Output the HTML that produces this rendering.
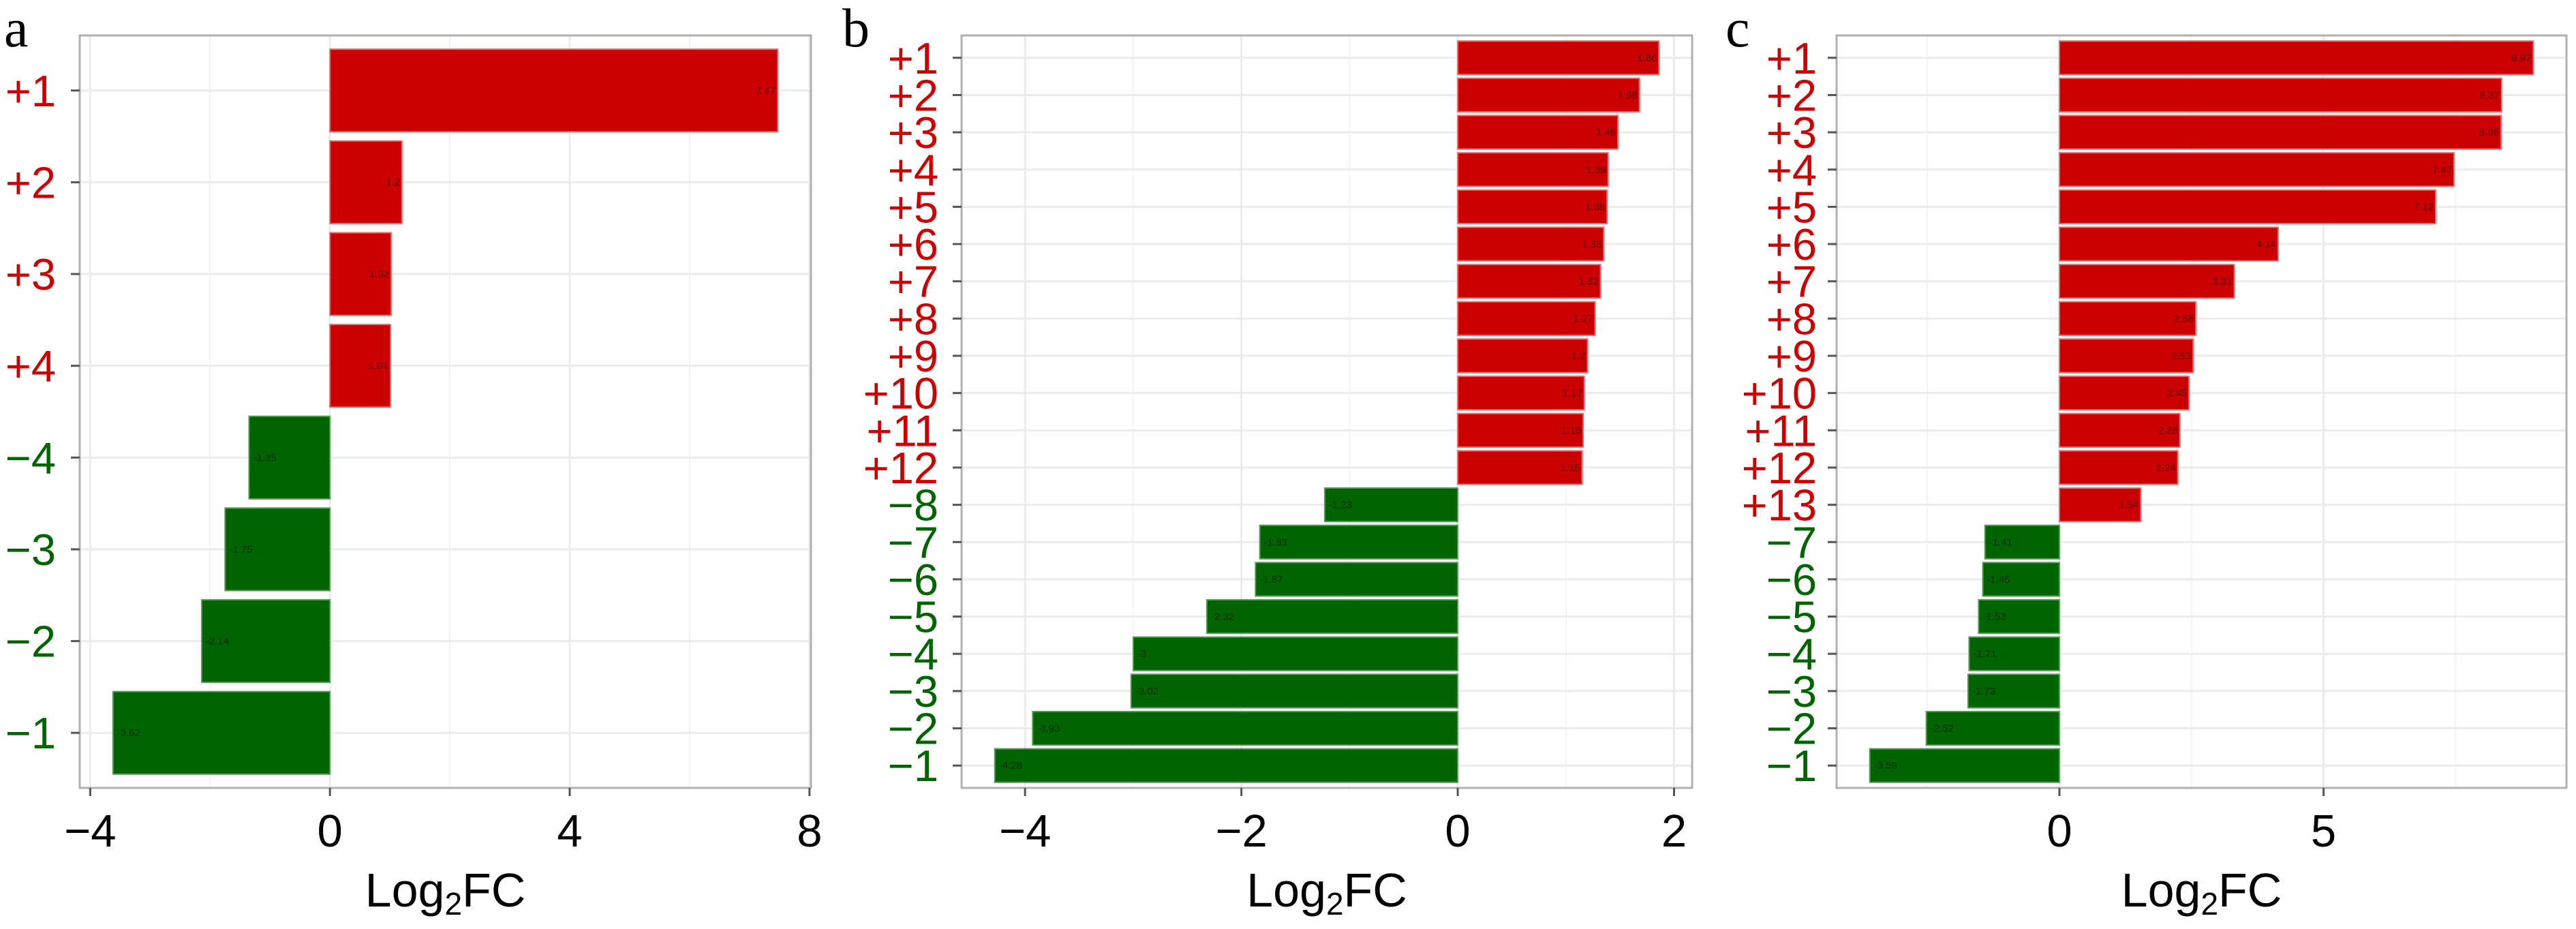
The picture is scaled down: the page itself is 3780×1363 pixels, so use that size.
<!DOCTYPE html>
<html><head><meta charset="utf-8">
<style>
html,body{margin:0;padding:0;background:#fff;}
svg{display:block;}
</style></head>
<body>
<svg id="chart" width="3780" height="1363" viewBox="0 0 3780 1363" xmlns="http://www.w3.org/2000/svg"></svg>
<script>
// Panel a data
const aCategories = ["+1","+2","+3","+4","−4","−3","−2","−1"];
const aValues = [7.47, 1.2, 1.02, 1.01, -1.35, -1.75, -2.14, -3.62];
const aValueLabels = ["7.47","1.2","1.02","1.01","-1.35","-1.75","-2.14","-3.62"];
const aTicks = [-4, 0, 4, 8];
const aMinor = [-2, 2, 6];
// Panel b data
const bCategories = ["+1","+2","+3","+4","+5","+6","+7","+8","+9","+10","+11","+12","−8","−7","−6","−5","−4","−3","−2","−1"];
const bValues = [1.86,1.68,1.48,1.39,1.38,1.35,1.32,1.27,1.2,1.17,1.16,1.15,-1.23,-1.83,-1.87,-2.32,-3,-3.02,-3.93,-4.28];
const bValueLabels = ["1.86","1.68","1.48","1.39","1.38","1.35","1.32","1.27","1.2","1.17","1.16","1.15","-1.23","-1.83","-1.87","-2.32","-3","-3.02","-3.93","-4.28"];
const bTicks = [-4, -2, 0, 2];
const bMinor = [-3, -1, 1];
// Panel c data
const cCategories = ["+1","+2","+3","+4","+5","+6","+7","+8","+9","+10","+11","+12","+13","−7","−6","−5","−4","−3","−2","−1"];
const cValues = [8.97,8.37,8.36,7.47,7.12,4.14,3.31,2.58,2.53,2.45,2.28,2.24,1.54,-1.41,-1.45,-1.53,-1.71,-1.73,-2.52,-3.59];
const cValueLabels = ["8.97","8.37","8.36","7.47","7.12","4.14","3.31","2.58","2.53","2.45","2.28","2.24","1.54","-1.41","-1.45","-1.53","-1.71","-1.73","-2.52","-3.59"];
const cTicks = [0, 5];
const cMinor = [-2.5, 2.5, 7.5];

const NS = "http://www.w3.org/2000/svg";
const svg = document.getElementById('chart');
function mk(tag, attrs, parent){
  const e = document.createElementNS(NS, tag);
  for (const k in attrs) e.setAttribute(k, attrs[k]);
  (parent||svg).appendChild(e);
  return e;
}

function drawPanel(letter, letterX, L, R, cats, vals, labels, ticks, minor, labelRight){
  const T = 52, B = 1156;
  const g = mk('g', {});
  
  
  const dmin = Math.min(0, ...vals), dmax = Math.max(0, ...vals);
  const ex = (dmax - dmin) * 0.05;
  const x0 = dmin - ex, x1 = dmax + ex;
  const xs = v => L + (v - x0) / (x1 - x0) * (R - L);
  const n = cats.length;
  const step = (B - T) / (n + 0.2);
  const ys = i => T + step * (0.6 + i);

  // minor grid
  minor.forEach(m => {
    if (m < x0 || m > x1) return;
    const l = mk('line', {x1: xs(m), x2: xs(m), y1: T, y2: B, stroke: '#f4f4f4', 'stroke-width': 2}, g);
    
    
  });
  // major grid x
  ticks.forEach(t => {
    const l = mk('line', {x1: xs(t), x2: xs(t), y1: T, y2: B, stroke: '#ebebeb', 'stroke-width': 3}, g);
    
    
  });
  // grid y
  cats.forEach((c, i) => {
    const l = mk('line', {x1: L, x2: R, y1: ys(i), y2: ys(i), stroke: '#ebebeb', 'stroke-width': 3}, g);
    
    
  });
  // bars
  vals.forEach((v, i) => {
    const h = step * 0.9;
    const xa = xs(Math.min(0, v)), xb = xs(Math.max(0, v));
    const pos = v >= 0;
    const r = mk('rect', {x: xa, y: ys(i) - h/2, width: xb - xa, height: h,
      fill: pos ? '#cc0000' : '#006400', stroke: pos ? '#e86a6a' : '#5a9a5a', 'stroke-width': 2}, g);
    
    
    const t = mk('text', {x: pos ? xb - 3 : xa + 6, y: ys(i) + 5, 'font-size': 15,
      'font-family': 'Liberation Sans, sans-serif', fill: 'rgba(0,0,0,0.55)',
      'text-anchor': pos ? 'end' : 'start'}, g);
    t.textContent = labels[i];
    
    
  });
  // border
  const bd = mk('rect', {x: L, y: T, width: R - L, height: B - T, fill: 'none', stroke: '#b0b0b0', 'stroke-width': 3}, g);
  
  
  // y ticks + labels
  cats.forEach((c, i) => {
    const tk = mk('line', {x1: L - 13, x2: L, y1: ys(i), y2: ys(i), stroke: '#555', 'stroke-width': 3}, g);
    
    
    const t = mk('text', {x: labelRight, y: ys(i) + 23, 'font-size': 65,
      'font-family': 'Liberation Sans, sans-serif', fill: c[0] === '+' ? '#cc0000' : '#006400',
      'text-anchor': 'end'}, g);
    t.textContent = c;
    
    
  });
  // x ticks
  ticks.forEach(tv => {
    const tk = mk('line', {x1: xs(tv), x2: xs(tv), y1: B, y2: B + 12, stroke: '#555', 'stroke-width': 3}, g);
    
    
    const t = mk('text', {x: xs(tv), y: B + 86, 'font-size': 67,
      'font-family': 'Liberation Sans, sans-serif', fill: '#000', 'text-anchor': 'middle'}, g);
    t.textContent = tv < 0 ? '−' + Math.abs(tv) : String(tv);
    
    
  });
  // axis title
  const at = mk('text', {x: (L + R) / 2, y: 1330, 'font-size': 70,
    'font-family': 'Liberation Sans, sans-serif', fill: '#000', 'text-anchor': 'middle'}, g);
  
  
  const s1 = document.createElementNS(NS, 'tspan'); s1.textContent = 'Log'; at.appendChild(s1);
  const s2 = document.createElementNS(NS, 'tspan'); s2.setAttribute('font-size', 46); s2.setAttribute('dy', 12); s2.textContent = '2'; at.appendChild(s2);
  const s3 = document.createElementNS(NS, 'tspan'); s3.setAttribute('dy', -12); s3.textContent = 'FC'; at.appendChild(s3);
  // panel letter
  const pl = mk('text', {x: letterX, y: 68, 'font-size': 80,
    'font-family': 'Liberation Serif, serif', fill: '#000'}, g);
  pl.textContent = letter;
  
  
}

drawPanel('a', 6, 117, 1190, aCategories, aValues, aValueLabels, aTicks, aMinor, 82);
drawPanel('b', 1236, 1411, 2483, bCategories, bValues, bValueLabels, bTicks, bMinor, 1377);
drawPanel('c', 2532, 2695, 3766, cCategories, cValues, cValueLabels, cTicks, cMinor, 2666);
</script>
</body></html>
